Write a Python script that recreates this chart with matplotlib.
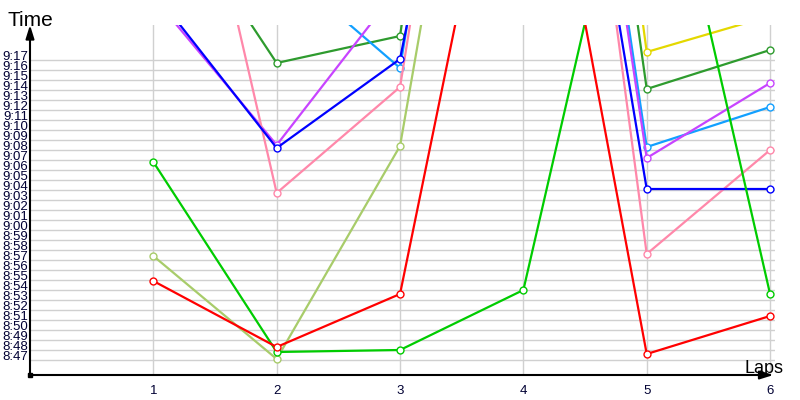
import numpy             as np
import matplotlib
matplotlib.use('Agg')
import matplotlib.pyplot as plt

#############################
# Data (lap times in seconds)
#############################
laps = [1, 2, 3, 4, 5, 6]

red        = [534.9, 528.3, 533.6, 593.8, 527.6, 531.4]
green      = [546.8, 527.8, 528.0, 534.0, 587.5, 533.6]
olive      = [537.4, 527.1, 548.4, 619.3, np.nan, np.nan]
darkGreen  = [575.3, 556.7, 559.4, 642.0, 554.1, 558.0]
blue       = [563.9, 548.2, 557.1, 618.0, 544.1, 544.1]
purple     = [563.3, 548.5, 564.4, 629.8, 547.2, 554.7]
lightBlue  = [np.nan, 566.8, 556.2, 631.0, 548.3, 552.3]
pink       = [597.3, 543.7, 554.3, 631.0, 537.6, 548.0]
yellow     = [np.nan, np.nan, np.nan, 649.5, 557.8, 561.4]

series = [
  (olive,     '#a8cc6a'),
  (darkGreen, '#2e9b2e'),
  (lightBlue, '#12a0ff'),
  (purple,    '#c844ff'),
  (pink,      '#ff88aa'),
  (blue,      '#0000ff'),
  (yellow,    '#e4d800'),
  (green,     '#00cc00'),
  (red,       '#ff0000'),
]

yTicks      = list(range(527, 558))
yTickLabels = ['%d:%02d' % (v // 60, v % 60) for v in yTicks]

#############################
# Figure
#############################
plt.rcParams['font.family'] = ['Liberation Sans', 'DejaVu Sans']

fig = plt.figure(figsize = (8, 4), dpi = 100)
ax  = fig.add_axes([30 / 800, 25 / 400, 745 / 800, 350 / 400])

ax.set_xlim(0, 6.04)
ax.set_ylim(525.5, 560.5)

ax.set_xticks(laps)
ax.set_yticks(yTicks)
ax.set_yticklabels(yTickLabels)

ax.tick_params(axis = 'both', length = 0, labelsize = 9.5, labelcolor = '#000033')
ax.tick_params(axis = 'x', pad = 7)
ax.tick_params(axis = 'y', pad = 1.5)
for lbl in ax.get_yticklabels():
  lbl.set_verticalalignment('baseline')

ax.grid(True, color = '#d0d0d0', linewidth = 1)
ax.set_axisbelow(True)

for s in ax.spines.values():
  s.set_visible(False)

for values, color in series:
  ax.plot(laps, values,
          color           = color,
          linewidth       = 1.6,
          marker          = 'o',
          markersize      = 5,
          markerfacecolor = 'white',
          markeredgecolor = color,
          markeredgewidth = 1)

#############################
# Axis arrows and titles
#############################
arrowStyle = dict(arrowstyle = '-|>,head_length=0.8,head_width=0.25', color = 'black',
                  lw = 1.5, shrinkA = 0, shrinkB = 0, mutation_scale = 10)

ax.annotate('', xy = (0, 1.0), xytext = (0, 0), xycoords = 'axes fraction',
            arrowprops = arrowStyle, annotation_clip = False)
ax.annotate('', xy = (0.998, 0), xytext = (0, 0), xycoords = 'axes fraction',
            arrowprops = arrowStyle, annotation_clip = False)
ax.plot(0, 0, 's', color = 'black', markersize = 3, transform = ax.transAxes, clip_on = False)

fig.text(8 / 800,   (400 - 26) / 400,    'Time', fontsize = 15, va = 'baseline', ha = 'left')
fig.text(744 / 800, (400 - 372.7) / 400, 'Laps', fontsize = 13, va = 'baseline', ha = 'left')

plt.savefig('out.png', dpi = 100)
